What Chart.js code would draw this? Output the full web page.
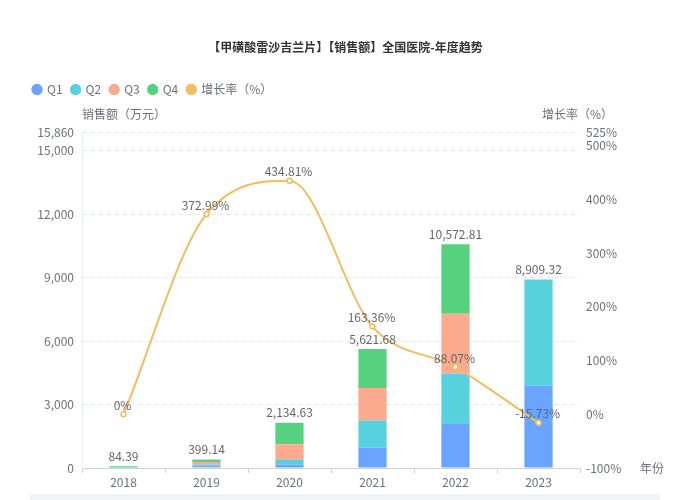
<!DOCTYPE html>
<html>
<head>
<meta charset="utf-8">
<script src="https://cdn.jsdelivr.net/npm/chart.js@4.4.0/dist/chart.umd.min.js"></script>
<style>
    html, body { margin: 0; padding: 0; background: #fff; }
    #wrap { position: relative; width: 691px; height: 500px; }
    #bottomBar { position: absolute; left: 30px; top: 494px; width: 630px; height: 6px; background: #f2f3f5; }
</style>
</head>
<body>
<div id="wrap">
    <canvas id="myChart" width="691" height="500"></canvas>
    <div id="bottomBar"></div>
</div>
<script>
    const years = ["2018", "2019", "2020", "2021", "2022", "2023"];
    const q1Sales = [0, 80, 150, 960, 2120, 3900];
    const q2Sales = [0, 90, 230, 1290, 2340, 5009.32];
    const q3Sales = [0, 110, 740, 1530, 2830, 0];
    const q4Sales = [84.39, 119.14, 1014.63, 1841.68, 3282.81, 0];
    const totalSales = [84.39, 399.14, 2134.63, 5621.68, 10572.81, 8909.32];
    const growthRate = [0, 372.99, 434.81, 163.36, 88.07, -15.73];
    const salesTicks = [0, 3000, 6000, 9000, 12000, 15000, 15860];
    const rateTicks = [-100, 0, 100, 200, 300, 400, 500, 525];

    const FONT = "'Noto Sans CJK SC', 'Noto Sans', sans-serif";
    const gray = "#6e7079";

    const fmtNum = (v) =>
        v.toLocaleString("en-US", { maximumFractionDigits: 2 });

    // value labels above stacks and line points, plus axis names
    const labelPlugin = {
        id: "labelPlugin",
        afterLayout(chart) {
            // shift the legend row a bit to the right
            chart.legend.left += 24;
        },
        afterDatasetsDraw(chart) {
            const { ctx, chartArea, scales } = chart;
            ctx.save();
            ctx.font = "12px " + FONT;
            ctx.fillStyle = "#666";
            ctx.textAlign = "center";
            ctx.textBaseline = "bottom";
            totalSales.forEach((v, i) => {
                const x = scales.x.getPixelForValue(i);
                const y = scales.y.getPixelForValue(v);
                ctx.fillText(fmtNum(v), x, y - 4);
            });
            growthRate.forEach((v, i) => {
                const x = scales.x.getPixelForValue(i);
                const y = scales.y1.getPixelForValue(v);
                ctx.fillText(fmtNum(v) + "%", x - 1, y - 3);
            });

            ctx.fillStyle = gray;
            ctx.textBaseline = "middle";
            ctx.textAlign = "left";
            ctx.fillText("销售额（万元）", chartArea.left, 114);
            ctx.textAlign = "right";
            ctx.fillText("增长率（%）", chartArea.right + 33, 114);
            ctx.textAlign = "left";
            ctx.fillText("年份", chartArea.right + 60, chartArea.bottom);
            ctx.restore();
        },
    };

    const legendSpacer = {
        id: "legendSpacer",
        beforeInit(chart) {
            const origFit = chart.legend.fit;
            chart.legend.fit = function () {
                origFit.bind(chart.legend)();
                this.height += 27;
            };
        },
    };

    const barSet = (label, data, color) => ({
        type: "bar",
        label: label,
        data: data,
        backgroundColor: color,
        borderColor: color,
        borderWidth: 0,
        stack: "sales",
        yAxisID: "y",
        order: 1,
        categoryPercentage: 0.68,
        barPercentage: 0.5,
    });

    const ctx = document.getElementById("myChart").getContext("2d");
    new Chart(ctx, {
        data: {
            labels: years,
            datasets: [
                barSet("Q1", q1Sales, "#6aa4ff"),
                barSet("Q2", q2Sales, "#58d1de"),
                barSet("Q3", q3Sales, "#fcaa8e"),
                barSet("Q4", q4Sales, "#56d17f"),
                {
                    type: "line",
                    label: "增长率（%）",
                    data: growthRate,
                    yAxisID: "y1",
                    borderColor: "#f3bc5e",
                    backgroundColor: "#f3bc5e",
                    pointBackgroundColor: "#fff",
                    pointBorderColor: "#f3bc5e",
                    pointBorderWidth: 1.5,
                    pointRadius: 2.5,
                    borderWidth: 2,
                    cubicInterpolationMode: "monotone",
                    order: 0,
                },
            ],
        },
        options: {
            responsive: false,
            animation: false,
            layout: { padding: { left: 0, right: 0, top: 0, bottom: 0 } },
            plugins: {
                title: {
                    display: true,
                    text: "【甲磺酸雷沙吉兰片】【销售额】全国医院-年度趋势",
                    color: "#333",
                    font: { family: FONT, size: 12, weight: "bold" },
                    padding: { top: 40, bottom: 20 },
                    align: "center",
                },
                legend: {
                    position: "top",
                    align: "start",
                    labels: {
                        usePointStyle: true,
                        pointStyle: "circle",
                        boxWidth: 8,
                        boxHeight: 8,
                        padding: 9,
                        color: gray,
                        font: { family: FONT, size: 12 },
                        sort: (a, b) => a.datasetIndex - b.datasetIndex,
                        generateLabels(chart) {
                            const items = Chart.defaults.plugins.legend.labels.generateLabels(chart);
                            items.forEach((it) => {
                                const ds = chart.data.datasets[it.datasetIndex];
                                it.fillStyle = ds.borderColor;
                                it.strokeStyle = ds.borderColor;
                                it.lineWidth = 0;
                                it.pointStyle = "circle";
                            });
                            return items;
                        },
                    },
                },
                tooltip: { enabled: false },
            },
            scales: {
                x: {
                    grid: {
                        display: true,
                        drawOnChartArea: false,
                        offset: true,
                        tickLength: 5,
                        color: "#ccd3de",
                    },
                    border: { color: "#ccd3de" },
                    ticks: { color: gray, font: { family: FONT, size: 12 }, padding: 2 },
                    afterFit(scale) { scale.height = 32; },
                },
                y: {
                    type: "linear",
                    position: "left",
                    stacked: true,
                    min: 0,
                    max: 15860,
                    afterBuildTicks(scale) {
                        scale.ticks = salesTicks.map((v) => ({ value: v }));
                    },
                    ticks: {
                        color: gray,
                        font: { family: FONT, size: 12 },
                        padding: 8,
                        callback: (v) => fmtNum(v),
                    },
                    grid: {
                        color: "#e0e6ee",
                        drawTicks: false,
                    },
                    border: { display: true, color: "#e8ecf1", dash: [4, 4] },
                    afterFit(scale) { scale.width = 82; },
                },
                y1: {
                    type: "linear",
                    position: "right",
                    min: -100,
                    max: 525,
                    afterBuildTicks(scale) {
                        scale.ticks = rateTicks.map((v) => ({ value: v }));
                    },
                    ticks: {
                        color: gray,
                        font: { family: FONT, size: 12 },
                        padding: 6,
                        callback: (v) => v + "%",
                    },
                    grid: { display: false, drawTicks: false },
                    border: { display: false },
                    afterFit(scale) { scale.width = 111; },
                },
            },
        },
        plugins: [labelPlugin, legendSpacer],
    });
</script>
</body>
</html>
